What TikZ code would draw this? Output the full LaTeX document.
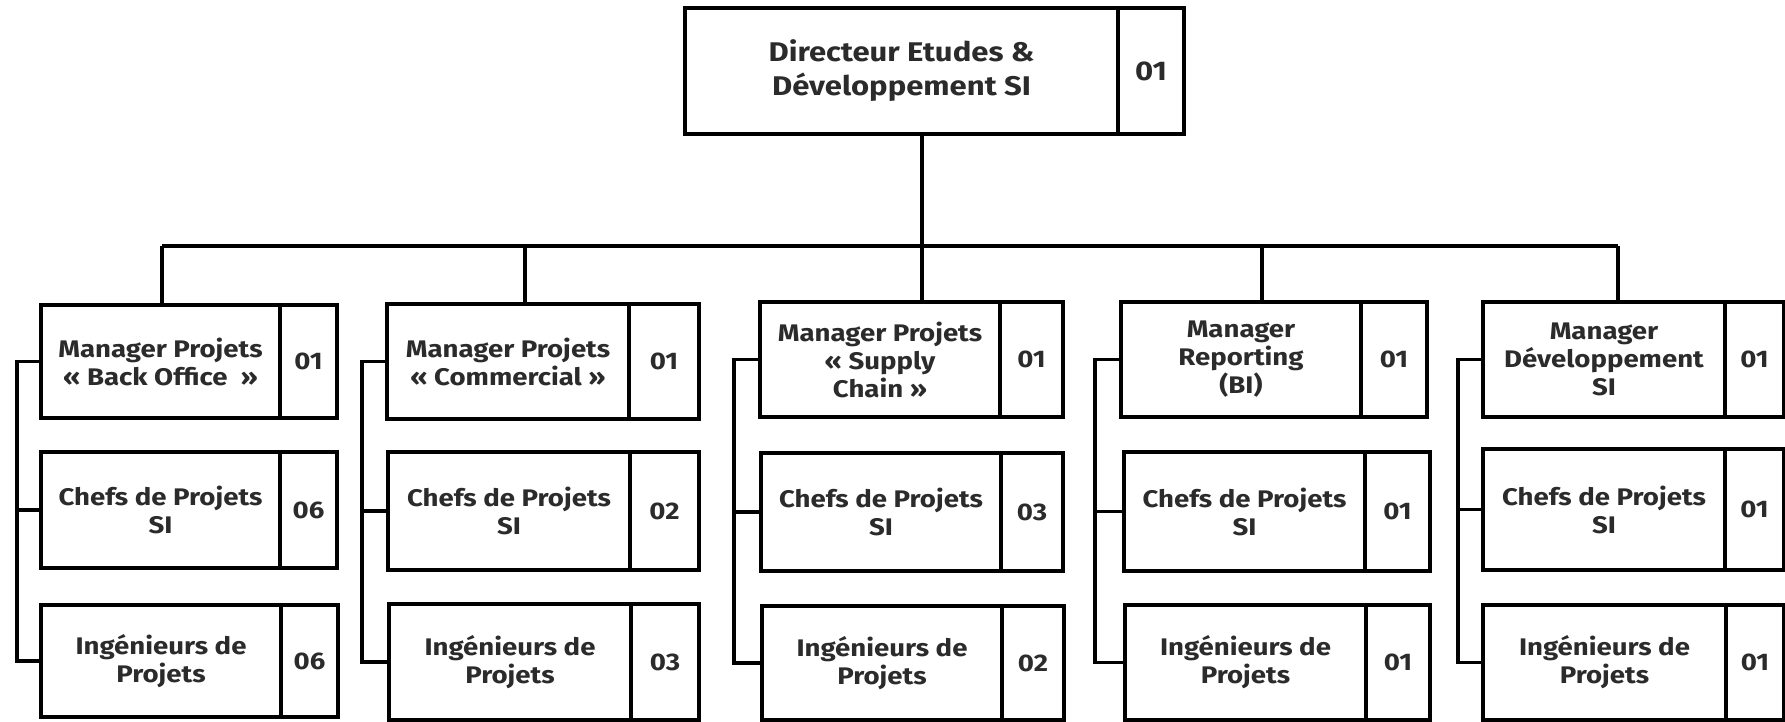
\documentclass[tikz,border=0pt]{standalone}
\usepackage{fontspec}
\setmainfont{Fira Sans}[FakeStretch=1.15]
\definecolor{txt}{HTML}{2B2B2B}
\begin{document}
\begin{tikzpicture}[x=1pt,y=-1pt,
  cell/.style={draw=black, line width=3.2pt, inner sep=0pt, align=center,
    text=txt, font=\bfseries\fontsize{24}{28}\selectfont},
  bigcell/.style={cell, font=\bfseries\fontsize{27}{34}\selectfont},
  link/.style={draw=black, line width=3.2pt},
]
\useasboundingbox (0,0) rectangle (1785,722);

% one staff box: label cell + headcount cell
% #2 name, #3 left, #4 divider, #5 right, #6 top, #7 bottom, #8 label, #9 count
\newcommand\staffbox[9][cell]{%
  \node[#1, minimum width={#4-#3}, minimum height={#7-#6}]
    (#2) at ({(#3+#4)/2},{(#6+#7)/2}) {#8};
  \node[#1, minimum width={#5-#4}, minimum height={#7-#6}]
    (#2n) at ({(#4+#5)/2},{(#6+#7)/2}) {#9};
}

% head of department
\staffbox[bigcell]{top}{685}{1118}{1184}{8}{134}{Directeur Etudes \&\\Développement SI}{01}

% column 1
\staffbox{a1}{41}{280}{337}{305}{418}{Manager Projets\\« Back Office~ »}{01}
\staffbox{a2}{41}{280}{337}{452}{568}{Chefs de Projets\\SI}{06}
\staffbox{a3}{41}{281}{338}{605}{717}{Ingénieurs de\\Projets}{06}
% column 2
\staffbox{b1}{387}{629}{699}{304}{419}{Manager Projets\\« Commercial »}{01}
\staffbox{b2}{388}{630}{699}{452}{570}{Chefs de Projets\\SI}{02}
\staffbox{b3}{389}{631}{699}{604}{720}{Ingénieurs de\\Projets}{03}
% column 3
\staffbox{c1}{760}{1000}{1063}{302}{417}{Manager Projets\\« Supply\\Chain »}{01}
\staffbox{c2}{761}{1001}{1063}{453}{571}{Chefs de Projets\\SI}{03}
\staffbox{c3}{762}{1002}{1064}{606}{720}{Ingénieurs de\\Projets}{02}
% column 4
\staffbox{d1}{1121}{1361}{1427}{302}{417}{Manager\\Reporting\\(BI)}{01}
\staffbox{d2}{1124}{1365}{1430}{452}{571}{Chefs de Projets\\SI}{01}
\staffbox{d3}{1125}{1366}{1430}{605}{720}{Ingénieurs de\\Projets}{01}
% column 5
\staffbox{e1}{1483}{1725}{1784}{302}{417}{Manager\\Développement\\SI}{01}
\staffbox{e2}{1483}{1725}{1784}{449}{570}{Chefs de Projets\\SI}{01}
\staffbox{e3}{1483}{1726}{1784}{605}{720}{Ingénieurs de\\Projets}{01}

% distribution bus
\coordinate (hub) at (922,246);
\coordinate (t1) at (162,246);
\coordinate (t2) at (525,246);
\coordinate (t3) at (922,246);
\coordinate (t4) at (1262,246);
\coordinate (t5) at (1618,246);
\draw[link] (top.south -| hub) -- (hub);
\draw[link] (t1) -- (t5);
\draw[link] (t1) -- (t1 |- a1.north);
\draw[link] (t2) -- (t2 |- b1.north);
\draw[link] (t3) -- (t3 |- c1.north);
\draw[link] (t4) -- (t4 |- d1.north);
\draw[link] (t5) -- (t5 |- e1.north);

% side brackets linking each team
\coordinate (ra) at (17,0);
\coordinate (rb) at (362,0);
\coordinate (rc) at (734,0);
\coordinate (rd) at (1095,0);
\coordinate (re) at (1458,0);
\foreach \c in {a,b,c,d,e}{
  \draw[link] (\c1.west) -- (\c1.west -| r\c) -- (\c3.west -| r\c) -- (\c3.west);
  \draw[link] (\c2.west) -- (\c2.west -| r\c);
}
\end{tikzpicture}
\end{document}
